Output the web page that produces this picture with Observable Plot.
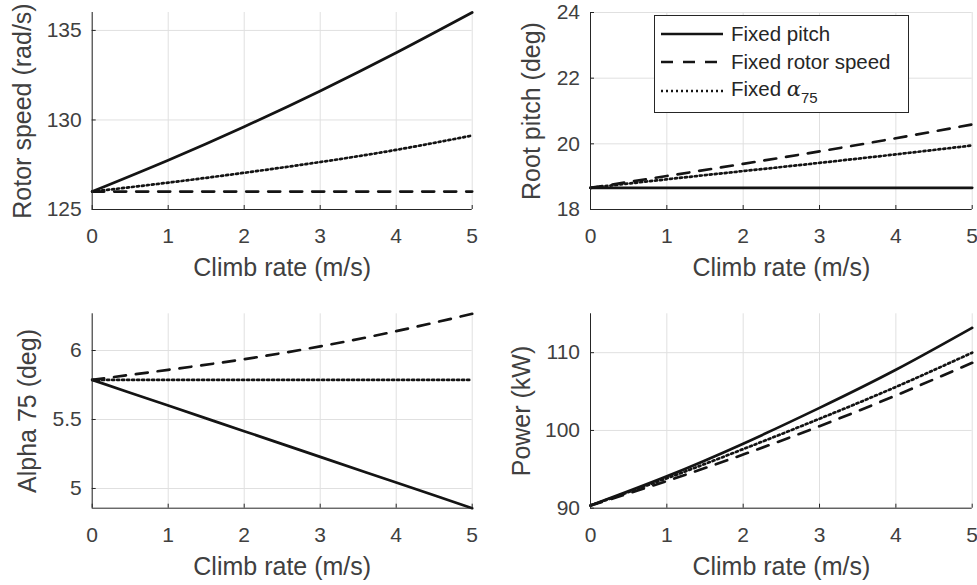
<!DOCTYPE html>
<html><head><meta charset="utf-8">
<script src="https://cdn.jsdelivr.net/npm/d3@7"></script>
<script src="https://cdn.jsdelivr.net/npm/@observablehq/plot@0.6"></script>
<style>
body{margin:0;background:#fff;}
#wrap{position:relative;width:977px;height:585px;overflow:hidden;font-family:"Liberation Sans",Arial,Helvetica,sans-serif;}
.panel{position:absolute;}
.panel svg{overflow:visible;background:transparent;}
#legend{position:absolute;left:654px;top:15px;width:253px;height:96px;border:1px solid #262626;background:#fff;font-size:20.5px;color:#262626;}
#legend .row{position:absolute;left:6px;height:24px;display:flex;align-items:center;}
#legend .row svg{width:64px;height:10px;margin-right:6px;}
#legend i{font-family:"DejaVu Serif",serif;font-style:italic;font-size:21px;}
#legend sub{font-size:15px;vertical-align:-7px;}
</style></head><body><div id="wrap"></div>
<script>
// ---- data ----
const climbRate = [0, 1, 2, 3, 4, 5];
const xTicks = [0, 1, 2, 3, 4, 5];
const seriesNames = ["Fixed pitch", "Fixed rotor speed", "Fixed α75"];

const rotorSpeedFixedPitch = [126.0, 127.75, 129.62, 131.62, 133.75, 136.0];
const rotorSpeedFixedRotor = [126.0, 126.0, 126.0, 126.0, 126.0, 126.0];
const rotorSpeedFixedAlpha = [126.0, 126.5, 127.05, 127.65, 128.33, 129.13];
const rotorSpeedTicks = [125, 130, 135];

const rootPitchFixedPitch = [18.66, 18.66, 18.66, 18.66, 18.66, 18.66];
const rootPitchFixedRotor = [18.66, 19.02, 19.39, 19.77, 20.17, 20.59];
const rootPitchFixedAlpha = [18.66, 18.92, 19.17, 19.42, 19.68, 19.95];
const rootPitchTicks = [18, 20, 22, 24];

const alphaFixedPitch = [5.787, 5.601, 5.415, 5.229, 5.043, 4.857];
const alphaFixedRotor = [5.787, 5.86, 5.937, 6.03, 6.14, 6.266];
const alphaFixedAlpha = [5.787, 5.787, 5.787, 5.787, 5.787, 5.787];
const alphaTicks = [5, 5.5, 6];

const powerFixedPitch = [90.35, 94.1, 98.3, 102.9, 107.8, 113.2];
const powerFixedRotor = [90.35, 93.5, 96.9, 100.55, 104.5, 108.7];
const powerFixedAlpha = [90.35, 93.85, 97.6, 101.5, 105.6, 110.0];
const powerTicks = [90, 100, 110];

const xLabel = "Climb rate (m/s)";

// ---- styles ----
const dashes = {"Fixed pitch": null, "Fixed rotor speed": "12,10", "Fixed α75": "2,3"};
const lineColor = "#141414";
const lineWidth = 2.7;
const axisColor = "#262626";
const textColor = "#404040";
const gridColor = "#e0e0e0";
const fontFamily = '"Liberation Sans",Arial,Helvetica,sans-serif';

const wrap = document.getElementById("wrap");

function panel(cfg) {
  const rows = [];
  cfg.series.forEach((vals, k) => vals.forEach((v, i) => rows.push({x: climbRate[i], y: v, s: seriesNames[k]})));
  const [mt, mr, mb, ml] = cfg.margins;
  const chart = Plot.plot({
    width: cfg.width, height: cfg.height,
    marginTop: mt, marginRight: mr, marginBottom: mb, marginLeft: ml,
    style: {fontFamily, background: "transparent", overflow: "visible"},
    x: {domain: [0, 5], label: null},
    y: {domain: cfg.yDomain, label: null},
    marks: [
      Plot.gridX(xTicks, {stroke: gridColor, strokeOpacity: 1}),
      Plot.gridY(cfg.yTicks, {stroke: gridColor, strokeOpacity: 1}),
      ...seriesNames.map(name => Plot.line(rows.filter(r => r.s === name), {
        x: "x", y: "y", curve: "natural", stroke: lineColor, strokeWidth: lineWidth,
        strokeDasharray: dashes[name]
      })),
      Plot.ruleX([0], {stroke: axisColor, strokeWidth: 1}),
      Plot.ruleY([cfg.yDomain[0]], {stroke: axisColor, strokeWidth: 1}),
      Plot.axisX(xTicks, {tickSize: 4, dy: -4, tickFormat: () => "", stroke: axisColor, label: null}),
      Plot.axisY(cfg.yTicks, {tickSize: 4, dx: 4, tickFormat: () => "", stroke: axisColor, label: null}),
      Plot.axisX(xTicks, {tickSize: 0, tickPadding: 19, fontSize: 21, fill: textColor, label: null, tickFormat: d => String(d)}),
      Plot.axisY(cfg.yTicks, {tickSize: 0, tickPadding: 10.5, fontSize: 21, fill: textColor, label: null, tickFormat: d => String(d)}),
      Plot.text([xLabel], {frameAnchor: "bottom", dy: 58.5, text: d => d, fontSize: 25, fill: textColor, textAnchor: "middle", lineAnchor: "middle"}),
      Plot.text([cfg.yLabel], {frameAnchor: "left", dx: cfg.yLabelDx, rotate: -90, text: d => d, fontSize: 25, fill: textColor, textAnchor: "middle", lineAnchor: "middle"})
    ]
  });
  const div = document.createElement("div");
  div.className = "panel";
  div.style.left = cfg.left + "px";
  div.style.top = cfg.top + "px";
  div.appendChild(chart);
  wrap.appendChild(div);
}

panel({left: 0, top: 0, width: 490, height: 292, margins: [12, 18.3, 83, 91.7],
  yDomain: [125, 136], yTicks: rotorSpeedTicks, yLabel: "Rotor speed (rad/s)", yLabelDx: -69,
  series: [rotorSpeedFixedPitch, rotorSpeedFixedRotor, rotorSpeedFixedAlpha]});
panel({left: 490, top: 0, width: 487, height: 292, margins: [12, 5.3, 83, 100],
  yDomain: [18, 24], yTicks: rootPitchTicks, yLabel: "Root pitch (deg)", yLabelDx: -59,
  series: [rootPitchFixedPitch, rootPitchFixedRotor, rootPitchFixedAlpha]});
panel({left: 0, top: 292, width: 490, height: 293, margins: [21.3, 18.3, 77.3, 91.7],
  yDomain: [4.857, 6.266], yTicks: alphaTicks, yLabel: "Alpha 75 (deg)", yLabelDx: -64,
  series: [alphaFixedPitch, alphaFixedRotor, alphaFixedAlpha]});
panel({left: 490, top: 292, width: 487, height: 293, margins: [21.3, 5.3, 77.3, 100],
  yDomain: [90, 115], yTicks: powerTicks, yLabel: "Power (kW)", yLabelDx: -69,
  series: [powerFixedPitch, powerFixedRotor, powerFixedAlpha]});

// ---- legend ----
const legend = document.createElement("div");
legend.id = "legend";
const rowTops = [6, 34, 63];
seriesNames.forEach((name, k) => {
  const row = document.createElement("div");
  row.className = "row";
  row.style.top = rowTops[k] + "px";
  const dash = dashes[name] ? `stroke-dasharray="${dashes[name]}"` : "";
  const label = k === 2 ? `Fixed <i>α</i><sub>75</sub>` : name;
  row.innerHTML = `<svg viewBox="0 0 64 10"><line x1="0" y1="5" x2="62" y2="5" stroke="${lineColor}" stroke-width="${lineWidth}" ${dash}/></svg><span>${label}</span>`;
  legend.appendChild(row);
});
wrap.appendChild(legend);
</script>
</body></html>
